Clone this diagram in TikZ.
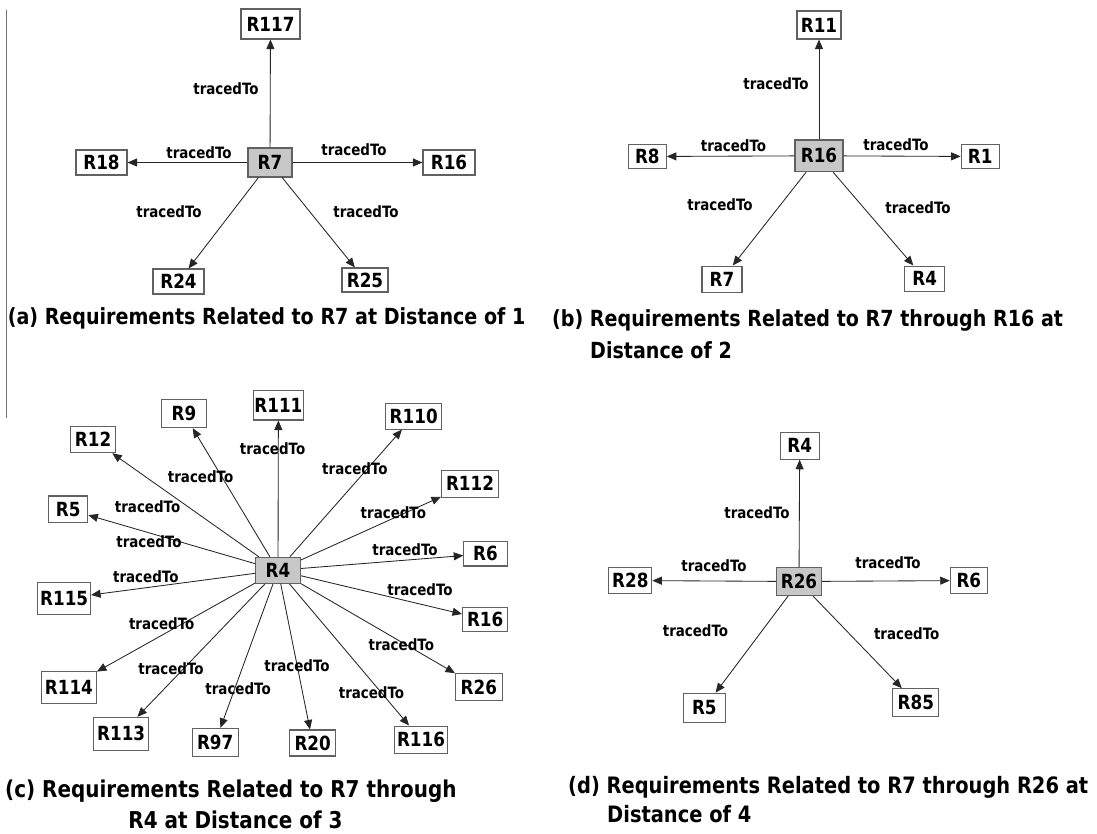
\documentclass[tikz,border=0pt]{standalone}
\usepackage{fontspec}
\setmainfont{DejaVu Sans}
\newfontfamily\capfont{DejaVu Sans}[FakeStretch=0.86]
\usetikzlibrary{arrows.meta}

\begin{document}
\begin{tikzpicture}[x=1pt,y=-1pt,
  req/.style={draw=black!62, line width=1.1pt, fill=white, inner sep=0pt,
    font=\capfont\bfseries\fontsize{19.5}{21}\selectfont},
  hub/.style={req, fill=black!22},
  nodesize/.style 2 args={minimum width=#1pt, minimum height=#2pt},
  lbl/.style={inner sep=0pt, font=\capfont\bfseries\fontsize{15.6}{17}\selectfont},
  captxt/.style={inner sep=0pt, anchor=base west,
    font=\capfont\bfseries\fontsize{#1}{31}\selectfont},
  captxt/.default=22.2,
  link/.style={draw=black!85, line width=0.85pt, -{Triangle[length=9.5pt,width=8pt]}},
]
\fill[white] (0,0) rectangle (1097,833);
\useasboundingbox (0,0) rectangle (1097,833);

% separator rule on the left
\draw[black!55, line width=1.3pt] (6.5,10) -- (6.5,418);

% ---------- (a) ----------
\node[hub, nodesize={44}{29}] (a7)   at (270,162.5) {R7};
\node[req, nodesize={59}{30}] (a117) at (270.5,24)  {R117};
\node[req, nodesize={51}{25}] (a18)  at (101.5,162.5) {R18};
\node[req, nodesize={52}{25}] (a16)  at (449,162.5) {R16};
\node[req, nodesize={51}{25}] (a24)  at (178.5,281.5) {R24};
\node[req, nodesize={46}{24}] (a25)  at (365,280) {R25};
\draw[link] (a7) -- (a117);
\draw[link] (a7) -- (a18);
\draw[link] (a7) -- (a16);
\draw[link] (a7) -- (a24);
\draw[link] (a7) -- (a25);
\node[lbl] (la1) at (226,89)  {tracedTo};
\node[lbl] (la2) at (199,153) {tracedTo};
\node[lbl] (la3) at (354,150) {tracedTo};
\node[lbl] (la4) at (169,212) {tracedTo};
\node[lbl] (la5) at (366,212) {tracedTo};
\node[captxt] (capa) at (7.6,324) {(a) Requirements Related to R7 at Distance of 1};

% ---------- (b) ----------
\node[hub, nodesize={48}{31.7}] (b16) at (819,155.8) {R16};
\node[req, nodesize={44}{28}]   (b11) at (819,25) {R11};
\node[req, nodesize={38}{24.3}] (b8)  at (647.3,156.5) {R8};
\node[req, nodesize={38}{24.3}] (b1)  at (980.2,156.5) {R1};
\node[req, nodesize={40}{26.3}] (b7)  at (722,279.2) {R7};
\node[req, nodesize={40}{25.3}] (b4)  at (924.7,278.7) {R4};
\draw[link] (b16) -- (b11);
\draw[link] (b16) -- (b8);
\draw[link] (b16) -- (b1);
\draw[link] (b16) -- (b7);
\draw[link] (b16) -- (b4);
\node[lbl] (lb1) at (776,84)      {tracedTo};
\node[lbl] (lb2) at (733.5,145.7) {tracedTo};
\node[lbl] (lb3) at (896,145)     {tracedTo};
\node[lbl] (lb4) at (720,204.3)   {tracedTo};
\node[lbl] (lb5) at (918,207.3)   {tracedTo};
\node[captxt] (capb1) at (552,326) {(b) Requirements Related to R7 through R16 at};
\node[captxt] (capb2) at (590,358) {Distance of 2};

% ---------- (c) ----------
\node[hub, nodesize={45}{26}]     (c4)   at (278,570.3) {R4};
\node[req, nodesize={50.6}{29.3}] (c111) at (278.4,405.3) {R111};
\node[req, nodesize={45}{28.3}]   (c9)   at (183.9,413.5) {R9};
\node[req, nodesize={56}{25.7}]   (c110) at (413.7,416.2) {R110};
\node[req, nodesize={44.4}{26}]   (c12)  at (93.1,439.7) {R12};
\node[req, nodesize={57}{27.3}]   (c112) at (470,483.7) {R112};
\node[req, nodesize={39.3}{26.7}] (c5)   at (68.2,509.3) {R5};
\node[req, nodesize={43.4}{24.3}] (c6)   at (485.5,553.8) {R6};
\node[req, nodesize={52.7}{31.7}] (c115) at (64.2,598.5) {R115};
\node[req, nodesize={45.4}{24.3}] (c16)  at (485.2,619.5) {R16};
\node[req, nodesize={55}{32.3}]   (c114) at (68.9,687.2) {R114};
\node[req, nodesize={46.5}{27.3}] (c26)  at (478.8,687) {R26};
\node[req, nodesize={55}{32.7}]   (c113) at (121.2,733.7) {R113};
\node[req, nodesize={46}{27.7}]   (c97)  at (215.2,742.2) {R97};
\node[req, nodesize={46}{26}]     (c20)  at (312.7,743) {R20};
\node[req, nodesize={53.4}{27.3}] (c116) at (421,739.7) {R116};
\foreach \t in {c111,c9,c110,c12,c112,c5,c6,c115,c16,c114,c26,c113,c97,c20,c116}
  \draw[link] (c4) -- (\t);
\node[lbl] (lc1)  at (272.6,448.3) {tracedTo};
\node[lbl] (lc2)  at (200.6,476.7) {tracedTo};
\node[lbl] (lc3)  at (354.9,468.3) {tracedTo};
\node[lbl] (lc4)  at (147.6,506.7) {tracedTo};
\node[lbl] (lc5)  at (393.4,512.3) {tracedTo};
\node[lbl] (lc6)  at (149,541.3)   {tracedTo};
\node[lbl] (lc7)  at (405,549.3)   {tracedTo};
\node[lbl] (lc8)  at (145.8,576.3) {tracedTo};
\node[lbl] (lc9)  at (420,589.3)   {tracedTo};
\node[lbl] (lc10) at (161.7,623.3) {tracedTo};
\node[lbl] (lc11) at (401.3,645)   {tracedTo};
\node[lbl] (lc12) at (171,668.7)   {tracedTo};
\node[lbl] (lc13) at (297,665.3)   {tracedTo};
\node[lbl] (lc14) at (238.1,688.3) {tracedTo};
\node[lbl] (lc15) at (371.5,692.3) {tracedTo};
\node[captxt=23.2] (capc1) at (5,797) {(c) Requirements Related to R7 through};
\node[captxt=23.2, anchor=base] (capc2) at (235.5,828) {R4 at Distance of 3};

% ---------- (d) ----------
\node[hub, nodesize={45}{28}] (d26) at (799,581.5) {R26};
\node[req, nodesize={39}{27}] (d4)  at (799.7,445.7) {R4};
\node[req, nodesize={43}{26}] (d28) at (630.3,580.5) {R28};
\node[req, nodesize={37}{26}] (d6)  at (968.8,580.5) {R6};
\node[req, nodesize={42}{29}] (d5)  at (704.3,707.7) {R5};
\node[req, nodesize={46}{28}] (d85) at (915.8,702.7) {R85};
\draw[link] (d26) -- (d4);
\draw[link] (d26) -- (d28);
\draw[link] (d26) -- (d6);
\draw[link] (d26) -- (d5);
\draw[link] (d26) -- (d85);
\node[lbl] (ld1) at (757,513)   {tracedTo};
\node[lbl] (ld2) at (714,566)   {tracedTo};
\node[lbl] (ld3) at (888,563)   {tracedTo};
\node[lbl] (ld4) at (695.5,631) {tracedTo};
\node[lbl] (ld5) at (906.7,634) {tracedTo};
\node[captxt=22.6] (capd1) at (568,793) {(d) Requirements Related to R7 through R26 at};
\node[captxt=22.6] (capd2) at (607,822) {Distance of 4};
\end{tikzpicture}
\end{document}
